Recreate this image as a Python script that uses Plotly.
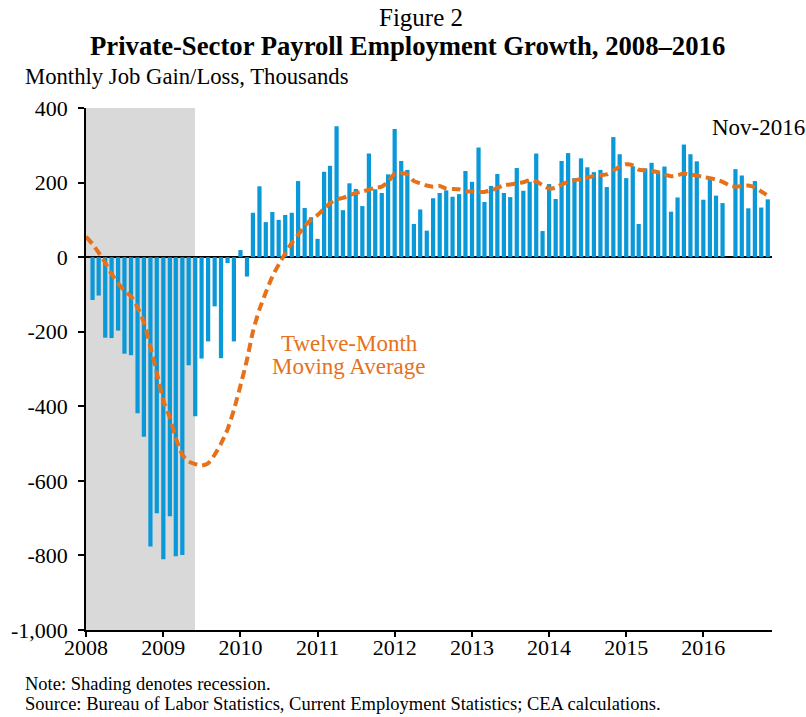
# Figure 2 - private-sector payroll employment growth, 2008-2016

import plotly.graph_objects as go
import pandas as pd

# monthly job gain/loss (thousands), Feb 2008 - Nov 2016
bar_months = pd.date_range("2008-02-01", periods=106, freq="MS")
job_gains = [
    -115, -103, -216, -217, -197, -259, -263, -419, -482, -776, -687,
    -810, -695, -802, -799, -290, -427, -272, -226, -132, -271, -16, -226,
    19, -52, 119, 190, 94, 121, 100, 113, 119, 204, 132, 107, 49,
    229, 245, 351, 126, 198, 183, 137, 278, 182, 172, 222, 344,
    258, 234, 89, 128, 71, 158, 172, 179, 162, 169, 231, 202,
    294, 148, 191, 223, 172, 161, 239, 178, 202, 278, 70, 196,
    156, 258, 279, 212, 265, 241, 228, 234, 188, 322, 276, 212,
    244, 89, 238, 253, 228, 243, 122, 160, 302, 276, 257, 154,
    208, 165, 145, 0, 236, 219, 131, 204, 133, 155,
]

# twelve-month moving average, Jan 2008 - Nov 2016
ma_months = pd.date_range("2008-01-01", periods=107, freq="MS")
moving_avg = [
    55, 35, 12, -15, -45, -70, -90, -105, -135, -175, -240, -310,
    -385, -430, -485, -530, -548, -555, -559, -553, -530, -500, -462, -410,
    -345, -275, -200, -140, -95, -52, -20, 10, 38, 60, 83, 100,
    113, 130, 145, 155, 159, 166, 172, 176, 181, 186, 189, 202,
    224, 226, 222, 204, 198, 192, 189, 191, 184, 183, 182, 177,
    176, 175, 175, 179, 185, 193, 195, 198, 201, 207, 203, 193,
    184, 186, 195, 202, 206, 210, 213, 218, 220, 222, 232, 243,
    249, 246, 235, 233, 231, 228, 222, 217, 220, 224, 221, 219,
    215, 212, 208, 202, 193, 189, 190, 192, 187, 176, 165,
]

y_ticks = [400, 200, 0, -200, -400, -600, -800, -1000]
y_labels = ["400", "200", "0", "-200", "-400", "-600", "-800", "-1,000"]
year_ticks = ["2008-01-01", "2009-01-01", "2010-01-01", "2011-01-01", "2012-01-01",
              "2013-01-01", "2014-01-01", "2015-01-01", "2016-01-01"]
year_labels = ["2008", "2009", "2010", "2011", "2012", "2013", "2014", "2015", "2016"]

FONT = "Liberation Serif, Times New Roman, serif"
BLUE = "#0A99D8"
ORANGE = "#E6711B"

fig = go.Figure()

fig.add_trace(go.Bar(
    x=bar_months, y=job_gains,
    marker_color=BLUE, marker_line_width=0,
    width=20 * 24 * 3600 * 1000,
    name="Monthly job gain/loss",
))

fig.add_trace(go.Scatter(
    x=ma_months, y=moving_avg, mode="lines",
    line=dict(color=ORANGE, width=4, dash="9px,5px", shape="spline", smoothing=0.6),
    name="Twelve-Month Moving Average",
))

# recession shading
fig.add_shape(type="rect", xref="x", yref="y",
              x0="2008-01-01", x1="2009-05-31", y0=-1000, y1=400,
              fillcolor="#D9D9D9", line_width=0, layer="below")

fig.update_layout(
    width=806, height=717,
    margin=dict(l=86, r=34, t=108, b=87),
    plot_bgcolor="white", paper_bgcolor="white",
    showlegend=False, bargap=0.3,
    font=dict(family=FONT, size=22, color="black"),
)

fig.update_xaxes(
    type="date", range=["2008-01-01", "2016-11-21"],
    tickvals=year_ticks, ticktext=year_labels,
    ticks="outside", ticklen=5, tickwidth=1.5, tickcolor="black",
    showline=True, linecolor="black", linewidth=2,
    showgrid=False, zeroline=False, automargin=False,
    tickfont=dict(size=22), ticklabelstandoff=-8,
)
fig.update_yaxes(
    range=[-1000, 400],
    tickvals=y_ticks, ticktext=y_labels,
    ticks="outside", ticklen=6, tickwidth=1.5, tickcolor="black",
    showline=True, linecolor="black", linewidth=1.5,
    showgrid=False, zeroline=True, zerolinecolor="black", zerolinewidth=2,
    automargin=False, tickfont=dict(size=22), ticklabelstandoff=6,
)

def note(text, x, y, size, xanchor="center", color="black", bold=False):
    if bold:
        text = "<b>" + text + "</b>"
    fig.add_annotation(text=text, x=x, y=y, xref="paper", yref="paper",
                       xanchor=xanchor, yanchor="middle", showarrow=False,
                       font=dict(family=FONT, size=size, color=color))

note("Figure 2", 0.4883, 1.1743, 25)
note("Private-Sector Payroll Employment Growth, 2008–2016", 0.468, 1.1188, 26.7, bold=True)
note("Monthly Job Gain/Loss, Thousands", -0.0918, 1.0594, 22.7, xanchor="left")
note("Nov-2016", 0.9796, 0.9617, 23)
note("Twelve-Month", 0.3834, 0.5498, 23, color=ORANGE)
note("Moving Average", 0.3834, 0.5057, 23, color=ORANGE)
note("Note: Shading denotes recession.", -0.0918, -0.1034, 18.5, xanchor="left")
note("Source: Bureau of Labor Statistics, Current Employment Statistics; CEA calculations.",
     -0.0918, -0.1418, 18.5, xanchor="left")

# drop the page's default body margin so the figure sits at the window corner
fig.write_html("out.html", config={"displayModeBar": False},
               post_script="document.body.style.margin='0';")
